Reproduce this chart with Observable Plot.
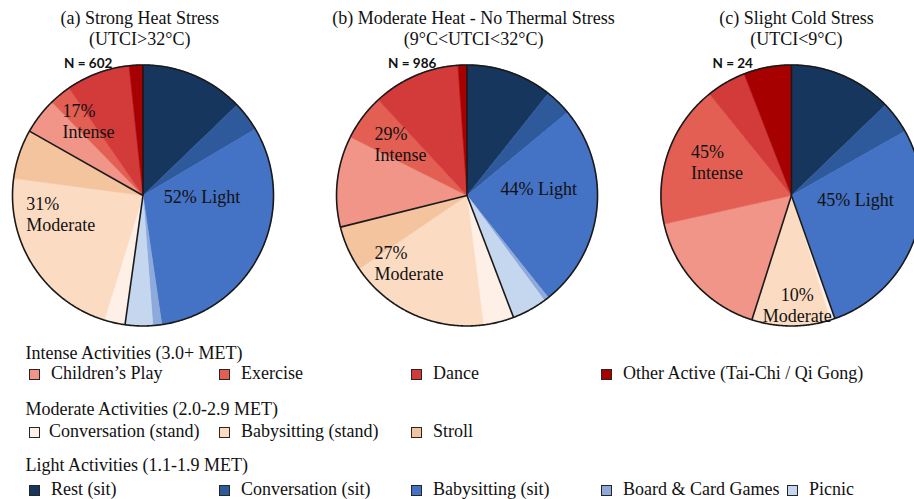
<!DOCTYPE html>
<html>
<head>
<meta charset="utf-8">
<script src="https://cdn.jsdelivr.net/npm/d3@7"></script>
<script src="https://cdn.jsdelivr.net/npm/@observablehq/plot@0.6"></script>
<style>
  html, body { margin: 0; padding: 0; background: #fff; overflow: hidden; }
  #chart svg { display: block; }
  #legend { position: relative; width: 914px; height: 164px; font-family: "Liberation Serif", "Times New Roman", serif; font-size: 18px; line-height: 18px; color: #111; }
  #legend .row, #legend .hdr { position: absolute; left: 0; width: 914px; height: 18px; white-space: nowrap; }
  #legend .hdr span { position: absolute; left: 25.5px; top: 0; }
  #legend .item { position: absolute; top: 0; }
  #legend .sw { position: absolute; top: 5px; width: 11px; height: 11px; box-sizing: border-box; border: 1px solid #262626; }
  #legend .lbl { position: absolute; top: 0; left: 21px; }
</style>
</head>
<body>
<div id="chart"></div>
<div id="legend"></div>
<script>
// ---------------- data ----------------
const activities = [
  "Rest (sit)", "Conversation (sit)", "Babysitting (sit)", "Board & Card Games", "Picnic",
  "Conversation (stand)", "Babysitting (stand)", "Stroll",
  "Children’s Play", "Exercise", "Dance", "Other Active (Tai-Chi / Qi Gong)"
];
const activityGroup = [
  "Light", "Light", "Light", "Light", "Light",
  "Moderate", "Moderate", "Moderate",
  "Intense", "Intense", "Intense", "Intense"
];
const activityColors = [
  "#17365e", "#2e5a9c", "#4472c4", "#8eaadb", "#c5d7ef",
  "#fef0e6", "#fbdcc3", "#f3c49e",
  "#f09588", "#e35f53", "#d33a3a", "#a60000"
];
// percent of observations per activity (clockwise from 12 o'clock)
const strongHeat   = [12.8, 3.7, 31.2, 1.1, 3.4, 2.6, 22.3, 6.1, 4.5, 2.7, 7.9, 1.7];
const moderateHeat = [10.7, 3.3, 25.3, 0.6, 4.3, 3.8, 17.5, 5.6, 11.3, 5.7, 10.8, 1.1];
const slightCold   = [12.8, 4.0, 27.8, 0.0, 0.0, 0.6, 9.7, 0.0, 16.6, 17.7, 4.9, 5.9];

const panelTitles = ["(a) Strong Heat Stress", "(b) Moderate Heat - No Thermal Stress", "(c) Slight Cold Stress"];
const panelSubtitles = ["(UTCI>32°C)", "(9°C<UTCI<32°C)", "(UTCI<9°C)"];
const sampleSizes = [602, 986, 24];
const groupOrder = ["Light", "Moderate", "Intense"];
const pieGroupLabels = [
  ["52% Light", "31%\nModerate", "17%\nIntense"],
  ["44% Light", "27%\nModerate", "29%\nIntense"],
  ["45% Light", "10%\nModerate", "45%\nIntense"]
];
const legendGroups = ["Intense", "Moderate", "Light"];
const legendHeaders = ["Intense Activities (3.0+ MET)", "Moderate Activities (2.0-2.9 MET)", "Light Activities (1.1-1.9 MET)"];

// ---------------- layout (radius units) ----------------
const W = 914, H = 335;
const pieCx = [0, 2.483, 4.969];
const xDomain = [-1.092, 5.912];
const yDomain = [-1.073, 1.494];
const titleDx = [-0.025, 0.05, 0.038];
const titleDy = 1.153;
const nDx = -0.605, nDy = 0.975;
// label positions for [Light, Moderate, Intense] per pie: [dx, dy, anchor]
const labelPos = [
  [[0.159, -0.056, "start"], [-0.895, -0.276, "start"], [-0.617, 0.442, "start"]],
  [[0.257, 0.0, "start"], [-0.709, -0.646, "start"], [-0.709, 0.263, "start"]],
  [[0.197, -0.084, "start"], [0.044, -0.971, "middle"], [-0.769, 0.128, "start"]]
];

// ---------------- geometry from data ----------------
const series = [strongHeat, moderateHeat, slightCold];
const slicePts = [], rimPts = [], seps = [], titles = [], nLabels = [], groupLabels = [];
series.forEach((vals, p) => {
  const cx = pieCx[p];
  const total = d3.sum(vals);
  let acc = 0;
  vals.forEach((v, i) => {
    const a0 = acc / total * 2 * Math.PI;
    if (i === 0 || activityGroup[i] !== activityGroup[i - 1]) {
      seps.push({x1: cx, y1: 0, x2: cx + Math.sin(a0), y2: Math.cos(a0)});
    }
    acc += v;
    const a1 = acc / total * 2 * Math.PI;
    if (v <= 0) return;
    const key = p + "-" + i;
    const n = Math.max(2, Math.ceil((a1 - a0) / 0.01));
    slicePts.push({key, activity: activities[i], x: cx, y: 0});
    for (let k = 0; k <= n; k++) {
      const a = a0 + (a1 - a0) * k / n;
      slicePts.push({key, activity: activities[i], x: cx + Math.sin(a), y: Math.cos(a)});
    }
    slicePts.push({key, activity: activities[i], x: cx, y: 0});
  });
  for (let k = 0; k <= 720; k++) {
    const a = k / 720 * 2 * Math.PI;
    rimPts.push({pie: p, x: cx + Math.sin(a), y: Math.cos(a)});
  }
  titles.push({x: cx + titleDx[p], y: titleDy, text: panelTitles[p] + "\n" + panelSubtitles[p]});
  nLabels.push({x: cx + nDx, y: nDy, text: "N = " + sampleSizes[p]});
  groupOrder.forEach((g, gi) => {
    const [dx, dy, anchor] = labelPos[p][gi];
    groupLabels.push({x: cx + dx, y: dy, text: pieGroupLabels[p][gi], anchor});
  });
});

const serif = "Liberation Serif, Times New Roman, serif";
const chart = Plot.plot({
  width: W,
  height: H,
  margin: 0,
  x: {domain: xDomain, axis: null},
  y: {domain: yDomain, axis: null},
  color: {domain: activities, range: activityColors},
  style: {background: "white", overflow: "hidden", fontFamily: serif},
  marks: [
    Plot.line(slicePts, {x: "x", y: "y", z: "key", fill: "activity", stroke: "activity", strokeWidth: 0.6, curve: "linear", clip: true}),
    Plot.link(seps, {x1: "x1", y1: "y1", x2: "x2", y2: "y2", stroke: "#1a1a1a", strokeWidth: 1.6, clip: true}),
    Plot.line(rimPts, {x: "x", y: "y", z: "pie", stroke: "#1a1a1a", strokeWidth: 1.6, clip: true}),
    Plot.text(groupLabels.filter(d => d.anchor === "start"), {x: "x", y: "y", text: "text", textAnchor: "start", lineAnchor: "bottom", lineHeight: 1.167, fontSize: 18, fontFamily: serif, fill: "#111"}),
    Plot.text(groupLabels.filter(d => d.anchor === "middle"), {x: "x", y: "y", text: "text", textAnchor: "middle", lineAnchor: "bottom", lineHeight: 1.167, fontSize: 18, fontFamily: serif, fill: "#111"}),
    Plot.text(titles, {x: "x", y: "y", text: "text", textAnchor: "middle", lineAnchor: "bottom", lineHeight: 1.167, fontSize: 18, fontFamily: serif, fill: "#111"}),
    Plot.text(nLabels, {x: "x", y: "y", text: "text", textAnchor: "start", lineAnchor: "bottom", fontSize: 13.5, fontWeight: "bold", fontFamily: "Lato, Liberation Sans, sans-serif", fill: "#111"})
  ]
});
document.getElementById("chart").appendChild(chart);

// ---------------- legend (HTML) ----------------
const legendCols = [29, 219, 411, 601, 787];
const headerTops = [8.7, 65.4, 121.4];
const rowTops = [28.9, 87.2, 144.5];
const legend = document.getElementById("legend");
legendGroups.forEach((g, gi) => {
  const hdr = document.createElement("div");
  hdr.className = "hdr";
  hdr.style.top = headerTops[gi] + "px";
  const hs = document.createElement("span");
  hs.textContent = legendHeaders[gi];
  hdr.appendChild(hs);
  legend.appendChild(hdr);
  const row = document.createElement("div");
  row.className = "row";
  row.style.top = rowTops[gi] + "px";
  activities.forEach((a, i) => {
    if (activityGroup[i] !== g) return;
    const col = row.childNodes.length;
    const item = document.createElement("div");
    item.className = "item";
    item.style.left = legendCols[col] + "px";
    const sw = document.createElement("div");
    sw.className = "sw";
    sw.style.background = activityColors[i];
    const lbl = document.createElement("span");
    lbl.className = "lbl";
    lbl.style.left = (i === 5 ? 20 : 22) + "px";
    lbl.textContent = a;
    item.appendChild(sw);
    item.appendChild(lbl);
    row.appendChild(item);
  });
  legend.appendChild(row);
});
</script>
</body>
</html>
